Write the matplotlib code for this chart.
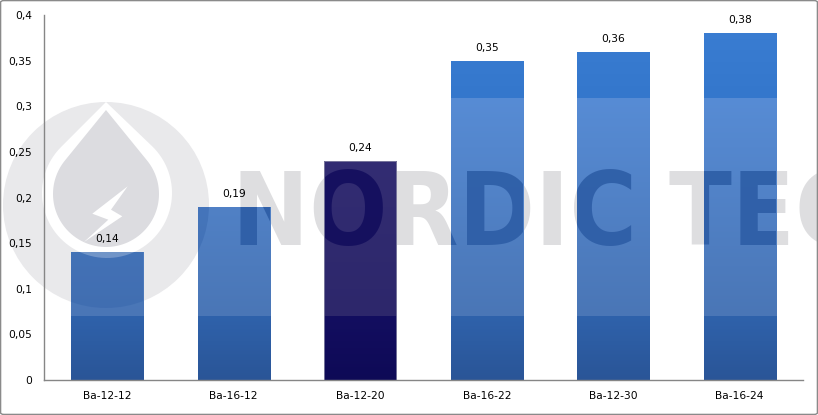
import numpy as np
import matplotlib
matplotlib.use('Agg')
import matplotlib.pyplot as plt
from matplotlib.patches import Circle, Polygon, Rectangle, FancyBboxPatch
from matplotlib.colors import to_rgb
from matplotlib.transforms import Affine2D, Bbox, TransformedBbox
from matplotlib import font_manager as fm

# ---------------- data ----------------
categories = ['Ba-12-12', 'Ba-16-12', 'Ba-12-20', 'Ba-16-22', 'Ba-12-30', 'Ba-16-24']
values = [0.14, 0.19, 0.24, 0.35, 0.36, 0.38]
value_labels = ['0,14', '0,19', '0,24', '0,35', '0,36', '0,38']
y_ticks = [0, 0.05, 0.1, 0.15, 0.2, 0.25, 0.3, 0.35, 0.4]
y_tick_labels = ['0', '0,05', '0,1', '0,15', '0,2', '0,25', '0,3', '0,35', '0,4']
highlight = [False, False, True, False, False, False]
watermark_text = 'NORDIC TEC'

# ---------------- style ----------------
W, H = 818, 415
plt.rcParams['font.family'] = ['DejaVu Sans']
fig = plt.figure(figsize=(W / 100, H / 100), dpi=100)
fig.patch.set_facecolor('white')

ax = fig.add_axes([44 / W, 1 - 380 / H, (803 - 44) / W, (380 - 15) / H])
ax.set_facecolor('none')
ax.set_xlim(-0.5, len(categories) - 0.5)
ax.set_ylim(0, 0.4)

# pixel transform for the watermark (reference pixel coords, y downward)
T = Affine2D().scale(1 / W, -1 / H).translate(0, 1) + fig.transFigure

# pick a narrow heavy font for the watermark if one is installed
wm_family, wm_stretch = 'DejaVu Sans', 'normal'
for fam, st, key in [('Liberation Sans Narrow', 'normal', 'narrow'),
                     ('DejaVu Sans', 'condensed', 'condensed'),
                     ('Roboto Condensed', 'normal', 'condensed'),
                     ('Open Sans Condensed', 'normal', 'condensed'),
                     ('Roboto', 'condensed', 'condensed')]:
    try:
        f = fm.findfont(fm.FontProperties(family=fam, weight='bold', stretch=st),
                        fallback_to_default=False)
        if key in f.lower():
            wm_family, wm_stretch = fam, st
            break
    except Exception:
        pass

# size the watermark text to the reference's extent (x 232..~850, cap height <= 103 px)
renderer = fig.canvas.get_renderer()
probe = fig.text(0, 0, watermark_text, fontsize=100, fontweight='bold',
                 family=wm_family, fontstretch=wm_stretch)
bb = probe.get_window_extent(renderer)
probe_c = fig.text(0, 0, 'N', fontsize=100, fontweight='bold',
                   family=wm_family, fontstretch=wm_stretch)
cap_px = probe_c.get_window_extent(renderer).height * 0.73 / 0.93
probe.remove()
probe_c.remove()
wm_size = min(100 * 630 / bb.width, 100 * 103 / cap_px)

BLUE_STOPS = [(0.0, '#2a5597'), (0.0700, '#2f62ab'), (0.0701, '#4a76b6'),
              (0.309, '#578cd5'), (0.3091, '#3477cc'), (0.4, '#3b7ed3')]
NAVY_STOPS = [(0.0, '#0e0a56'), (0.0700, '#130e60'), (0.0701, '#2d276b'),
              (0.309, '#352f76'), (0.3091, '#1a1466'), (0.4, '#1a1466')]
BLUE_DARK = '#2b5ba4'
NAVY_DARK = '#110c5c'


def gradient(stops, n=900):
    ys = np.linspace(0, 0.4, n)
    sy = [s[0] for s in stops]
    cols = np.array([to_rgb(s[1]) for s in stops])
    img = np.zeros((n, 1, 3))
    for c in range(3):
        img[:, 0, c] = np.interp(ys, sy, cols[:, c])
    return img


def drop(tip, c, r, col, alpha, z):
    tx, ty = tip
    cx, cy = c
    d = np.hypot(cx - tx, cy - ty)
    base = np.arctan2(ty - cy, tx - cx)
    off = np.arccos(r / d)
    angs = np.linspace(base + off, base + 2 * np.pi - off, 80)
    pts = [(tx, ty)] + [(cx + r * np.cos(a), cy + r * np.sin(a)) for a in angs]
    return Polygon(pts, closed=True, transform=T, color=col, alpha=alpha, lw=0, zorder=z)


BOLT = [(127.7, 186.3), (92.3, 213.7), (108.3, 219.7), (84.0, 242.0), (122.3, 216.3), (111.0, 209.7)]


def watermark(clip=None, clipbox=None, dark=None):
    """Draw the logo + text; if clip is given, draw a darkened copy clipped to it."""
    arts = []
    if dark is None:
        z = 0.2
        arts.append(Circle((106, 205), 103, transform=T, color='#e9e9eb', lw=0, zorder=z))
        arts.append(drop((106, 102), (107, 193), 65, 'white', 1.0, z))
        arts.append(drop((106, 110), (106, 194), 53, '#dcdce0', 1.0, z))
        arts.append(Polygon(BOLT, closed=True, transform=T, color='white', lw=0, zorder=z))
        text_c, a_text = '#dedee0', 1.0
    else:
        z = 1.5
        arts.append(Circle((106, 205), 103, transform=T, color=dark, alpha=0.3, lw=0, zorder=z))
        arts.append(drop((106, 102), (107, 193), 65, '#ffffff', 0.25, z + 0.01))
        text_c, a_text = dark, 0.85
    for a in arts:
        ax.add_artist(a)
        if clip is None:
            a.set_clip_on(False)
        else:
            a.set_clip_path(clip)
    t = ax.text(232, 206.5, watermark_text, transform=T, fontsize=wm_size, fontweight='bold',
                family=wm_family, fontstretch=wm_stretch,
                color=text_c, alpha=a_text, ha='left', va='center_baseline', zorder=z)
    if clipbox is None:
        t.set_clip_on(False)
    else:
        t.set_clip_path(None)
        t.set_clip_box(clipbox)
        t.set_clip_on(True)


watermark()

x = np.arange(len(categories))
bw = 0.57
bars = ax.bar(x, values, width=bw, facecolor='none', edgecolor='none', zorder=1)
for i, (b, v, hl) in enumerate(zip(bars, values, highlight)):
    img = gradient(NAVY_STOPS if hl else BLUE_STOPS)
    im = ax.imshow(img, origin='lower', extent=(i - bw / 2, i + bw / 2, 0, 0.4),
                   aspect='auto', interpolation='nearest', zorder=1.1)
    im.set_clip_path(b)
    x0, x1 = i - bw / 2, i + bw / 2
    y0, y1 = 0.0701, min(v, 0.309)
    clip = Polygon([(x0, y0), (x1, y0), (x1, y1), (x0, y1)],
                   closed=True, transform=ax.transData)
    clipbox = TransformedBbox(Bbox([[x0, y0], [x1, y1]]), ax.transData)
    watermark(clip=clip, clipbox=clipbox, dark=NAVY_DARK if hl else BLUE_DARK)
    if hl:
        ax.add_patch(Rectangle((x0, 0), bw, v, facecolor='none',
                               edgecolor='#8584a4', lw=0.6, zorder=1.6))
    ax.annotate(value_labels[i], (i, v), xytext=(0, 7.2), textcoords='offset points',
                ha='center', va='baseline', fontsize=7.7, color='black', zorder=3)

ax.set_xlim(-0.5, len(categories) - 0.5)
ax.set_ylim(0, 0.4)
ax.set_xticks(x)
ax.set_xticklabels(categories)
ax.set_yticks(y_ticks)
ax.set_yticklabels(y_tick_labels)
ax.tick_params(axis='both', length=0, labelsize=7.7, colors='black')
ax.tick_params(axis='y', pad=8.6)
ax.tick_params(axis='x', pad=8.0)
for s in ['top', 'right']:
    ax.spines[s].set_visible(False)
for s in ['left', 'bottom']:
    ax.spines[s].set_color('#868686')
    ax.spines[s].set_linewidth(1.0)
    ax.spines[s].set_zorder(2.6)

border = FancyBboxPatch((0.6 / W, 0.6 / H), 1 - 1.2 / W, 1 - 1.2 / H,
                        boxstyle='round,pad=0,rounding_size=0.004',
                        transform=fig.transFigure, facecolor='none',
                        edgecolor='#8a8a8a', lw=1.0, zorder=10)
fig.add_artist(border)

fig.savefig('out.png', dpi=100)
